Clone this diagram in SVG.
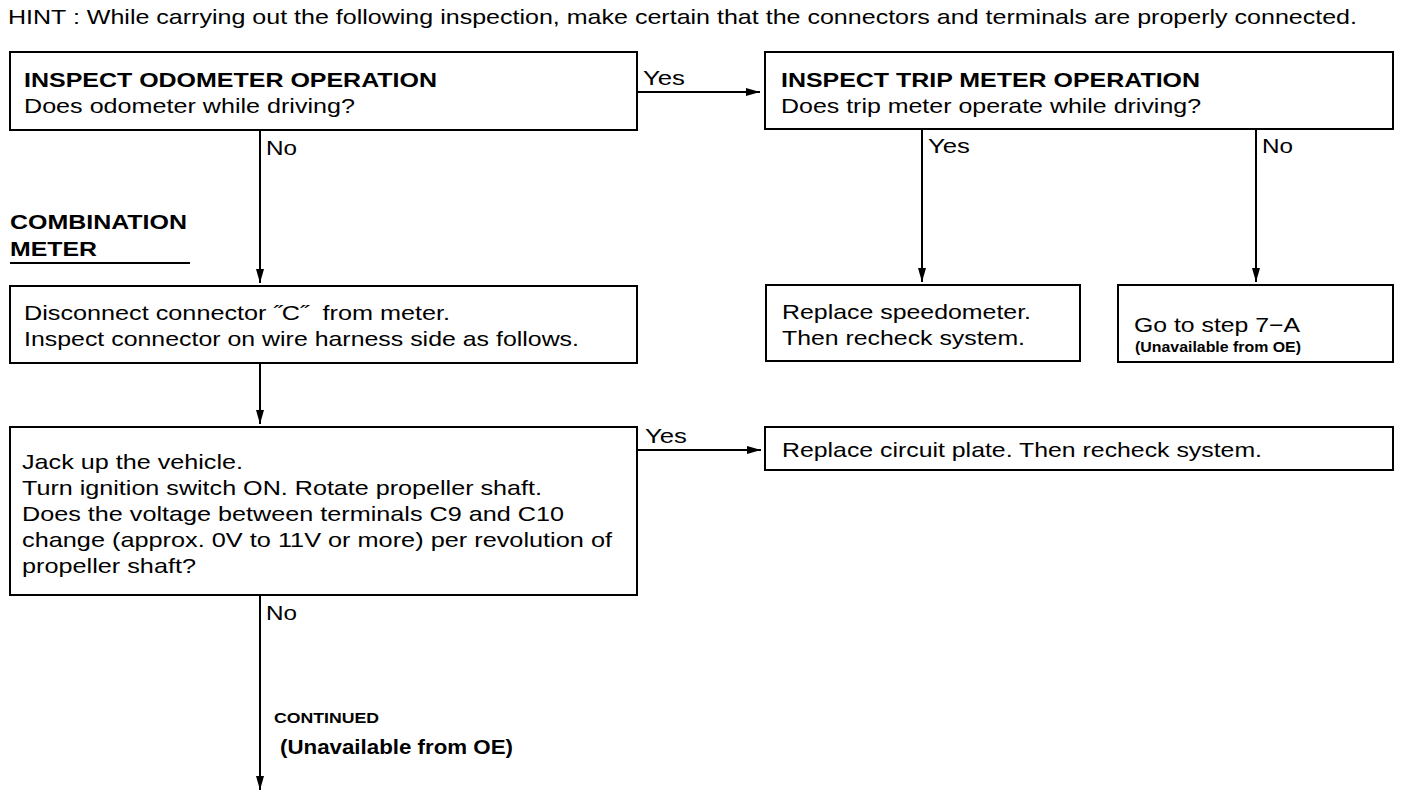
<svg xmlns="http://www.w3.org/2000/svg" width="1408" height="796" viewBox="0 0 1408 796">
<defs>
<marker id="ah" markerWidth="14" markerHeight="8" refX="14" refY="4" orient="auto" markerUnits="userSpaceOnUse">
<path d="M0,0 L14,4 L0,8 Z" fill="#000"/>
</marker>
<style>
text{font-family:"Liberation Sans",Arial,sans-serif;fill:#000;font-size:21px}
.b{font-weight:bold}
.box{fill:#fff;stroke:#000;stroke-width:2}
.ln{fill:none;stroke:#000;stroke-width:2}
.sm{font-size:14px;font-weight:bold}
</style>
</defs>
<rect width="1408" height="796" fill="#fff"/>
<text x="8" y="24" font-size="20" textLength="1349" lengthAdjust="spacingAndGlyphs">HINT : While carrying out the following inspection, make certain that the connectors and terminals are properly connected.</text>
<g id="label-combination">
<text x="10" y="229" class="b" textLength="177" lengthAdjust="spacingAndGlyphs">COMBINATION</text>
<text x="10" y="256" class="b" textLength="87" lengthAdjust="spacingAndGlyphs">METER</text>
<line x1="10" y1="263" x2="190" y2="263" class="ln"/>
</g>
<g id="connectors">
<line x1="637" y1="92" x2="760" y2="92" class="ln" marker-end="url(#ah)"/>
<line x1="260" y1="130" x2="260" y2="283" class="ln" marker-end="url(#ah)"/>
<line x1="260" y1="363" x2="260" y2="424" class="ln" marker-end="url(#ah)"/>
<line x1="922" y1="129" x2="922" y2="282" class="ln" marker-end="url(#ah)"/>
<line x1="1256" y1="129" x2="1256" y2="282" class="ln" marker-end="url(#ah)"/>
<line x1="637" y1="450" x2="761" y2="450" class="ln" marker-end="url(#ah)"/>
<line x1="260" y1="595" x2="260" y2="790" class="ln" marker-end="url(#ah)"/>
<text x="643" y="85" textLength="42" lengthAdjust="spacingAndGlyphs">Yes</text>
<text x="266" y="155" textLength="31" lengthAdjust="spacingAndGlyphs">No</text>
<text x="928" y="153" textLength="42" lengthAdjust="spacingAndGlyphs">Yes</text>
<text x="1262" y="153" textLength="31" lengthAdjust="spacingAndGlyphs">No</text>
<text x="645" y="443" textLength="42" lengthAdjust="spacingAndGlyphs">Yes</text>
<text x="266" y="620" textLength="31" lengthAdjust="spacingAndGlyphs">No</text>
<text x="274" y="723" class="sm" textLength="105" lengthAdjust="spacingAndGlyphs">CONTINUED</text>
<text x="280" y="754" class="b" font-size="18" textLength="233" lengthAdjust="spacingAndGlyphs">(Unavailable from OE)</text>
</g>
<g id="n1">
<rect x="10" y="52" width="627" height="78" class="box"/>
<text x="24" y="87" class="b" textLength="413" lengthAdjust="spacingAndGlyphs">INSPECT ODOMETER OPERATION</text>
<text x="24" y="113" textLength="331" lengthAdjust="spacingAndGlyphs">Does odometer while driving?</text>
</g>
<g id="n2">
<rect x="765" y="52" width="628" height="77" class="box"/>
<text x="781" y="87" class="b" textLength="419" lengthAdjust="spacingAndGlyphs">INSPECT TRIP METER OPERATION</text>
<text x="781" y="113" textLength="420" lengthAdjust="spacingAndGlyphs">Does trip meter operate while driving?</text>
</g>
<g id="n3">
<rect x="10" y="286" width="627" height="77" class="box"/>
<text x="24" y="320" xml:space="preserve" textLength="426" lengthAdjust="spacingAndGlyphs">Disconnect connector ˝C˝  from meter.</text>
<text x="24" y="346" textLength="555" lengthAdjust="spacingAndGlyphs">Inspect connector on wire harness side as follows.</text>
</g>
<g id="n4">
<rect x="766" y="285" width="314" height="76" class="box"/>
<text x="782" y="319" textLength="249" lengthAdjust="spacingAndGlyphs">Replace speedometer.</text>
<text x="782" y="345" textLength="243" lengthAdjust="spacingAndGlyphs">Then recheck system.</text>
</g>
<g id="n5">
<rect x="1118" y="285" width="275" height="77" class="box"/>
<text x="1134" y="332" textLength="166" lengthAdjust="spacingAndGlyphs">Go to step 7−A</text>
<text x="1135" y="352" class="sm" textLength="166" lengthAdjust="spacingAndGlyphs">(Unavailable from OE)</text>
</g>
<g id="n6">
<rect x="10" y="427" width="627" height="168" class="box"/>
<text x="22" y="469" textLength="221" lengthAdjust="spacingAndGlyphs">Jack up the vehicle.</text>
<text x="22" y="495" textLength="520" lengthAdjust="spacingAndGlyphs">Turn ignition switch ON. Rotate propeller shaft.</text>
<text x="22" y="521" textLength="542" lengthAdjust="spacingAndGlyphs">Does the voltage between terminals C9 and C10</text>
<text x="22" y="547" textLength="590" lengthAdjust="spacingAndGlyphs">change (approx. 0V to 11V or more) per revolution of</text>
<text x="22" y="573" textLength="174" lengthAdjust="spacingAndGlyphs">propeller shaft?</text>
</g>
<g id="n7">
<rect x="765" y="427" width="628" height="43" class="box"/>
<text x="782" y="457" textLength="480" lengthAdjust="spacingAndGlyphs">Replace circuit plate. Then recheck system.</text>
</g>
</svg>
